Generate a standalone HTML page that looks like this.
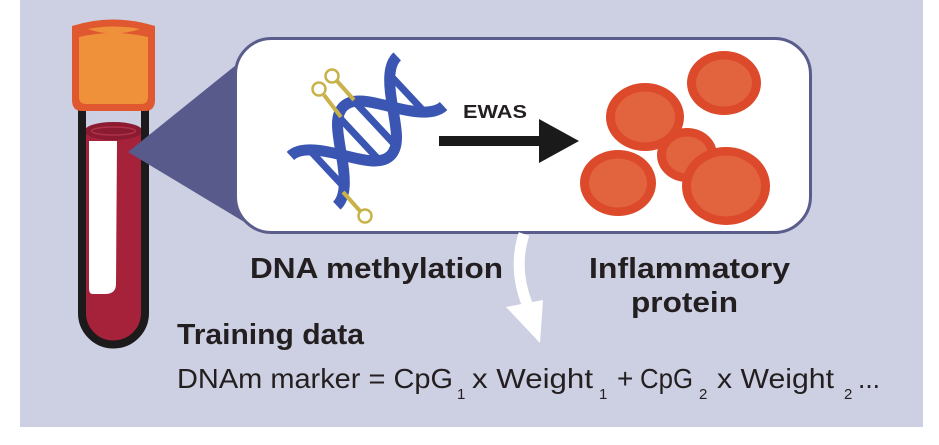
<!DOCTYPE html>
<html>
<head>
<meta charset="utf-8">
<style>
  html, body { margin: 0; padding: 0; background: #ffffff; }
  body { width: 939px; height: 445px; overflow: hidden; }
  svg { display: block; }
  text { font-family: "Liberation Sans", "DejaVu Sans", sans-serif; fill: #231f20; }
</style>
</head>
<body>
<svg width="939" height="445" viewBox="0 0 939 445" xmlns="http://www.w3.org/2000/svg">
  <!-- background panel -->
  <rect x="0" y="0" width="939" height="445" fill="#ffffff"/>
  <rect x="20" y="0" width="903" height="427" fill="#cdcfe2"/>

  <!-- tube: blood -->
  <path d="M85,130 L142,130 L142,313 A28.5,28.5 0 0 1 85,313 Z" fill="#a5223a"/>
  <ellipse cx="113.5" cy="131" rx="29" ry="9" fill="#8a1b31"/>
  <ellipse cx="113.5" cy="131" rx="22" ry="4" fill="none" stroke="#b0324a" stroke-width="1.5"/>
  <!-- white stripe -->
  <path d="M89,141 L117,141 L116,284 Q116,294 105,294 L93,294 Q89,294 89,289 Z" fill="#ffffff"/>
  <!-- tube outline -->
  <path d="M82,104 L82,313 A31.5,31.5 0 0 0 145,313 L145,104" fill="none" stroke="#1c1a1b" stroke-width="8"/>

  <!-- cap -->
  <path d="M72,26 Q113,13 155,26 L155,100 Q155,111 145,111 L82,111 Q72,111 72,100 Z" fill="#e0582f"/>
  <path d="M79,37 Q113,29 148,37 L148,97 Q148,104 141,104 L86,104 Q79,104 79,97 Z" fill="#ef903b"/>
  <path d="M88,29 Q113,24 140,29 Q113,38 88,29 Z" fill="#ef903b"/>

  <!-- callout triangle (over tube) -->
  <polygon points="128,152 246,57 246,223" fill="#575a8b"/>

  <!-- rounded box -->
  <rect x="235.5" y="38.5" width="575" height="194" rx="36" ry="36" fill="#ffffff" stroke="#5a5d8c" stroke-width="3"/>

  <!-- DNA helix -->
  <g transform="translate(367,131) rotate(-43)">
    <g stroke="#3a56b2" stroke-width="7" fill="none">
      <line x1="-55" y1="-26" x2="-55" y2="26"/>
      <line x1="-11" y1="-30" x2="-11" y2="30"/>
      <line x1="11" y1="-30" x2="11" y2="30"/>
      <line x1="55" y1="-26" x2="55" y2="26"/>
    </g>
    <g stroke="#3a56b2" stroke-width="11" fill="none" stroke-linecap="butt">
      <path d="M-73,34 C-60,34 -48,20 -35,0 C-22,-20 -13,-34 0,-34 C13,-34 22,-20 35,0 C48,20 60,34 73,34"/>
      <path d="M-73,-34 C-60,-34 -48,-20 -35,0 C-22,20 -13,34 0,34 C13,34 22,20 35,0 C48,-20 60,-34 73,-34"/>
    </g>
  </g>

  <!-- gold lollipops -->
  <g stroke="#c9b24a" stroke-width="4" fill="none">
    <line x1="341" y1="117" x2="324" y2="95"/>
    <line x1="354" y1="100" x2="337" y2="81"/>
    <line x1="343" y1="192" x2="360" y2="211"/>
  </g>
  <g stroke="#c9b24a" stroke-width="2.5" fill="#ffffff">
    <circle cx="319" cy="89" r="6.5"/>
    <circle cx="332" cy="76" r="6.5"/>
    <circle cx="365" cy="216" r="6.5"/>
  </g>

  <!-- EWAS -->
  <text x="463" y="118" font-size="18" font-weight="bold" textLength="64" lengthAdjust="spacingAndGlyphs">EWAS</text>
  <!-- black arrow -->
  <rect x="439" y="136" width="104" height="10" fill="#1a1a1a"/>
  <polygon points="539,119 579,141 539,163" fill="#1a1a1a"/>

  <!-- red blood cells -->
  <g>
    <ellipse cx="687" cy="155" rx="30" ry="27" fill="#dc4a2b"/>
    <ellipse cx="687" cy="155" rx="21" ry="18.5" fill="#e2643f"/>

    <ellipse cx="645" cy="117" rx="39" ry="34" fill="#dc4a2b"/>
    <ellipse cx="645" cy="117" rx="30" ry="25.5" fill="#e2643f"/>

    <ellipse cx="618" cy="183" rx="38" ry="33" fill="#dc4a2b"/>
    <ellipse cx="618" cy="183" rx="29" ry="24.5" fill="#e2643f"/>

    <ellipse cx="726" cy="186" rx="44" ry="39" fill="#dc4a2b"/>
    <ellipse cx="726" cy="186" rx="35" ry="30.5" fill="#e2643f"/>

    <ellipse cx="724" cy="83" rx="37" ry="32" fill="#dc4a2b"/>
    <ellipse cx="724" cy="83" rx="28" ry="23.5" fill="#e2643f"/>
  </g>

  <!-- white curved arrow -->
  <path d="M524,234 Q513,268 527,304" fill="none" stroke="#ffffff" stroke-width="11"/>
  <polygon points="506,307 543,300 540,343" fill="#ffffff"/>

  <!-- labels -->
  <text x="250" y="278" font-size="29" font-weight="bold" textLength="253" lengthAdjust="spacingAndGlyphs">DNA methylation</text>
  <text x="589" y="278" font-size="29" font-weight="bold" textLength="201" lengthAdjust="spacingAndGlyphs">Inflammatory</text>
  <text x="631" y="312" font-size="29" font-weight="bold" textLength="107" lengthAdjust="spacingAndGlyphs">protein</text>
  <text x="177" y="344" font-size="29" font-weight="bold" textLength="187" lengthAdjust="spacingAndGlyphs">Training data</text>

  <!-- formula -->
  <text x="177" y="388" font-size="28" textLength="276" lengthAdjust="spacingAndGlyphs">DNAm marker = CpG</text>
  <text x="457" y="399" font-size="15">1</text>
  <text x="472" y="388" font-size="28" textLength="121" lengthAdjust="spacingAndGlyphs">x Weight</text>
  <text x="599" y="399" font-size="15">1</text>
  <text x="617" y="388" font-size="28">+</text>
  <text x="640" y="388" font-size="28" textLength="53" lengthAdjust="spacingAndGlyphs">CpG</text>
  <text x="699" y="399" font-size="15">2</text>
  <text x="717" y="388" font-size="28" textLength="117" lengthAdjust="spacingAndGlyphs">x Weight</text>
  <text x="844" y="399" font-size="15">2</text>
  <text x="858" y="388" font-size="28" textLength="22" lengthAdjust="spacingAndGlyphs">...</text>
</svg>
</body>
</html>
